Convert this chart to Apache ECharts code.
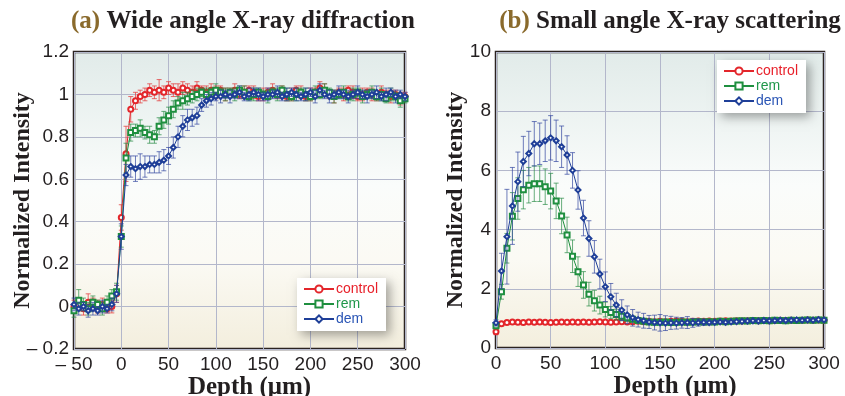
<!DOCTYPE html>
<html>
<head>
<meta charset="utf-8">
<script src="https://cdn.jsdelivr.net/npm/echarts@6/dist/echarts.min.js"></script>
<style>
  html, body { margin: 0; padding: 0; background: #fff; }
  #chart { width: 845px; height: 396px; }
</style>
</head>
<body>
<div id="chart"></div>
<script>
// ---- data: (a) wide angle X-ray diffraction ----
const depthA = [
  -50, -45, -40, -35, -30, -25, -20, -15, -10, -5,
  0, 5, 10, 15, 20, 25, 30, 35, 40, 45,
  50, 55, 60, 65, 70, 75, 80, 85, 90, 95,
  100, 105, 110, 115, 120, 125, 130, 135, 140, 145,
  150, 155, 160, 165, 170, 175, 180, 185, 190, 195,
  200, 205, 210, 215, 220, 225, 230, 235, 240, 245,
  250, 255, 260, 265, 270, 275, 280, 285, 290, 295,
  300
]
const controlA = [
  0.00, 0.01, -0.01, 0.02, 0.01, 0.00, 0.01, -0.01, 0.00, 0.06,
  0.42, 0.72, 0.93, 0.97, 0.99, 1.00, 1.02, 1.01, 1.02, 1.01,
  1.03, 1.02, 1.01, 1.03, 1.02, 1.01, 1.03, 1.02, 1.01, 1.02,
  1.01, 1.02, 1.00, 1.01, 1.02, 1.00, 1.01, 1.02, 1.01, 0.99,
  1.00, 1.01, 1.02, 1.00, 1.01, 0.99, 1.00, 1.02, 1.01, 0.99,
  1.00, 1.01, 1.03, 1.02, 1.00, 0.99, 1.01, 1.00, 1.02, 1.01,
  0.99, 1.00, 1.01, 1.00, 0.99, 1.01, 1.00, 0.99, 1.00, 0.98,
  0.99
]
const remA = [
  -0.02, 0.03, 0.01, -0.01, 0.02, 0.01, -0.01, 0.02, 0.05, 0.07,
  0.33, 0.70, 0.82, 0.83, 0.84, 0.82, 0.81, 0.80, 0.85, 0.88,
  0.90, 0.93, 0.96, 0.97, 0.98, 0.99, 1.00, 1.01, 1.00, 1.01,
  1.02, 1.01, 1.00, 1.01, 1.00, 1.02, 1.01, 0.99, 1.00, 1.01,
  1.00, 0.99, 1.01, 1.00, 1.02, 1.00, 0.99, 1.00, 1.01, 1.00,
  0.99, 1.01, 1.00, 1.02, 1.01, 0.99, 1.00, 1.01, 0.99, 1.00,
  1.01, 0.99, 1.00, 1.01, 0.99, 1.00, 0.98, 1.00, 0.99, 0.97,
  0.98
]
const demA = [
  0.01, -0.01, 0.00, -0.02, -0.01, -0.02, 0.00, -0.01, 0.01, 0.06,
  0.33, 0.62, 0.66, 0.65, 0.66, 0.66, 0.67, 0.67, 0.68, 0.69,
  0.71, 0.75, 0.80, 0.85, 0.88, 0.89, 0.90, 0.95, 0.97, 0.98,
  0.99, 0.99, 1.00, 0.99, 1.00, 1.01, 0.99, 1.00, 1.01, 1.00,
  0.99, 1.00, 1.00, 1.01, 0.99, 1.00, 1.01, 1.00, 0.99, 1.00,
  1.01, 0.99, 1.02, 1.00, 0.99, 1.00, 1.01, 1.00, 0.99, 1.00,
  1.01, 1.00, 0.99, 1.00, 1.01, 0.99, 1.00, 1.01, 0.99, 1.00,
  0.99
]
const controlErrA = [
  0.03, 0.03, 0.03, 0.04, 0.03, 0.03, 0.03, 0.02, 0.03, 0.04,
  0.06, 0.13, 0.06, 0.04, 0.03, 0.03, 0.03, 0.03, 0.05, 0.03,
  0.03, 0.03, 0.04, 0.03, 0.03, 0.03, 0.03, 0.02, 0.03, 0.03,
  0.03, 0.02, 0.03, 0.02, 0.03, 0.02, 0.03, 0.02, 0.03, 0.02,
  0.03, 0.02, 0.03, 0.02, 0.03, 0.02, 0.03, 0.02, 0.03, 0.02,
  0.03, 0.02, 0.03, 0.03, 0.02, 0.03, 0.02, 0.03, 0.02, 0.03,
  0.02, 0.03, 0.02, 0.03, 0.02, 0.03, 0.02, 0.03, 0.02, 0.03,
  0.02
]
const remErrA = [
  0.03, 0.05, 0.03, 0.03, 0.03, 0.02, 0.03, 0.03, 0.03, 0.04,
  0.05, 0.07, 0.04, 0.03, 0.04, 0.03, 0.04, 0.03, 0.04, 0.04,
  0.04, 0.04, 0.03, 0.04, 0.03, 0.03, 0.03, 0.02, 0.03, 0.02,
  0.03, 0.02, 0.03, 0.02, 0.03, 0.02, 0.03, 0.02, 0.03, 0.02,
  0.02, 0.03, 0.02, 0.03, 0.02, 0.03, 0.02, 0.03, 0.02, 0.03,
  0.02, 0.03, 0.02, 0.03, 0.02, 0.03, 0.02, 0.03, 0.02, 0.03,
  0.02, 0.03, 0.02, 0.03, 0.02, 0.03, 0.02, 0.03, 0.02, 0.03,
  0.02
]
const demErrA = [
  0.03, 0.03, 0.02, 0.03, 0.03, 0.02, 0.03, 0.02, 0.03, 0.04,
  0.06, 0.05, 0.05, 0.06, 0.06, 0.05, 0.04, 0.04, 0.05, 0.05,
  0.04, 0.05, 0.05, 0.05, 0.05, 0.04, 0.04, 0.03, 0.03, 0.03,
  0.02, 0.03, 0.02, 0.03, 0.02, 0.03, 0.02, 0.03, 0.02, 0.03,
  0.02, 0.03, 0.02, 0.03, 0.02, 0.03, 0.02, 0.03, 0.02, 0.03,
  0.02, 0.03, 0.03, 0.02, 0.03, 0.02, 0.03, 0.02, 0.03, 0.02,
  0.03, 0.02, 0.03, 0.02, 0.03, 0.02, 0.03, 0.02, 0.03, 0.02,
  0.02
]

// ---- data: (b) small angle X-ray scattering ----
const depthB = [
  0, 5, 10, 15, 20, 25, 30, 35, 40, 45,
  50, 55, 60, 65, 70, 75, 80, 85, 90, 95,
  100, 105, 110, 115, 120, 125, 130, 135, 140, 145,
  150, 155, 160, 165, 170, 175, 180, 185, 190, 195,
  200, 205, 210, 215, 220, 225, 230, 235, 240, 245,
  250, 255, 260, 265, 270, 275, 280, 285, 290, 295,
  300
]
const controlB = [
  0.55, 0.82, 0.86, 0.88, 0.87, 0.86, 0.88, 0.87, 0.88, 0.87,
  0.86, 0.87, 0.88, 0.87, 0.88, 0.87, 0.88, 0.87, 0.88, 0.89,
  0.88, 0.87, 0.88, 0.89, 0.88, 0.89, 0.90, 0.89, 0.90, 0.89,
  0.90, 0.89, 0.90, 0.91, 0.90, 0.89, 0.90, 0.91, 0.90, 0.91,
  0.90, 0.91, 0.92, 0.91, 0.92, 0.91, 0.92, 0.93, 0.92, 0.93,
  0.92, 0.93, 0.94, 0.93, 0.94, 0.93, 0.94, 0.95, 0.94, 0.95,
  0.94
]
const remB = [
  0.75, 1.90, 3.37, 4.45, 5.05, 5.35, 5.50, 5.55, 5.55, 5.45,
  5.30, 4.97, 4.46, 3.82, 3.10, 2.58, 2.13, 1.82, 1.60, 1.45,
  1.30, 1.20, 1.13, 1.07, 1.02, 0.97, 0.93, 0.90, 0.88, 0.87,
  0.87, 0.88, 0.86, 0.87, 0.88, 0.87, 0.88, 0.89, 0.88, 0.89,
  0.88, 0.90, 0.89, 0.90, 0.91, 0.92, 0.91, 0.93, 0.92, 0.93,
  0.92, 0.94, 0.93, 0.92, 0.94, 0.93, 0.94, 0.95, 0.94, 0.95,
  0.94
]
const demB = [
  0.85, 2.60, 3.76, 4.80, 5.62, 6.30, 6.57, 6.90, 6.90, 7.00,
  7.10, 7.00, 6.80, 6.52, 6.00, 5.34, 4.39, 3.70, 3.08, 2.50,
  2.07, 1.73, 1.45, 1.28, 1.12, 1.02, 0.96, 0.92, 0.88, 0.86,
  0.85, 0.84, 0.85, 0.84, 0.85, 0.86, 0.85, 0.86, 0.87, 0.86,
  0.87, 0.88, 0.87, 0.88, 0.89, 0.90, 0.91, 0.92, 0.91, 0.93,
  0.92, 0.93, 0.94, 0.93, 0.94, 0.95, 0.94, 0.95, 0.94, 0.96,
  0.95
]
const controlErrB = [
  0.10, 0.06, 0.05, 0.05, 0.05, 0.05, 0.05, 0.05, 0.05, 0.05,
  0.05, 0.05, 0.05, 0.05, 0.05, 0.05, 0.05, 0.05, 0.05, 0.05,
  0.05, 0.05, 0.05, 0.05, 0.05, 0.05, 0.05, 0.05, 0.05, 0.05,
  0.05, 0.05, 0.05, 0.05, 0.05, 0.05, 0.05, 0.05, 0.05, 0.05,
  0.05, 0.05, 0.05, 0.05, 0.05, 0.05, 0.05, 0.05, 0.05, 0.05,
  0.05, 0.05, 0.05, 0.05, 0.05, 0.05, 0.05, 0.05, 0.05, 0.05,
  0.05
]
const remErrB = [
  0.10, 0.25, 0.50, 0.80, 0.70, 0.65, 0.60, 0.60, 0.60, 0.60,
  0.60, 0.60, 0.60, 0.60, 0.55, 0.50, 0.45, 0.40, 0.35, 0.30,
  0.25, 0.20, 0.18, 0.15, 0.12, 0.10, 0.10, 0.06, 0.06, 0.06,
  0.06, 0.06, 0.06, 0.06, 0.06, 0.06, 0.06, 0.06, 0.06, 0.06,
  0.06, 0.06, 0.06, 0.06, 0.06, 0.06, 0.06, 0.06, 0.06, 0.06,
  0.06, 0.06, 0.06, 0.06, 0.06, 0.06, 0.06, 0.06, 0.06, 0.06,
  0.06
]
const demErrB = [
  0.10, 0.60, 1.60, 1.30, 1.00, 0.85, 0.75, 0.75, 0.70, 0.70,
  0.75, 0.70, 0.70, 0.65, 0.60, 0.65, 0.60, 0.60, 0.55, 0.50,
  0.50, 0.45, 0.40, 0.35, 0.30, 0.28, 0.25, 0.25, 0.22, 0.25,
  0.28, 0.25, 0.22, 0.20, 0.18, 0.20, 0.15, 0.12, 0.10, 0.08,
  0.05, 0.05, 0.05, 0.05, 0.05, 0.05, 0.05, 0.05, 0.05, 0.05,
  0.05, 0.05, 0.05, 0.05, 0.05, 0.05, 0.05, 0.05, 0.05, 0.05,
  0.05
]

const seriesNames = ['control', 'rem', 'dem']
const xTicksA = [-50, 300, 50]   // min, max, interval
const yTicksA = [-0.2, 1.2, 0.2]
const xTicksB = [0, 300, 50]
const yTicksB = [0, 10, 2]

// ---- styling ----
const RED = '#e3262b'
const GREEN = '#1f8f3f'
const BLUE = '#1f3f98'
const lineColors = [RED, GREEN, BLUE]
const errColors = ['rgba(227,60,60,0.75)', 'rgba(40,140,70,0.7)', 'rgba(50,70,160,0.7)']
const legendText = ['#e8202a', '#20984a', '#2a55b5']
const symbols = ['emptyCircle', 'emptyRect', 'emptyDiamond']
const INK = '#231f20'
const SERIF = '"Liberation Serif", "DejaVu Serif", serif'
const SANS = '"Liberation Sans Narrow", "Liberation Sans", Arial, sans-serif'

const pairs = (xs, ys) => xs.map((x, i) => [x, ys[i]])
const bars = (xs, ys, es) => xs.map((x, i) => [x, ys[i] - es[i], ys[i] + es[i]])

function errorBar(color) {
  return function (params, api) {
    const x = api.value(0)
    const lo = api.coord([x, api.value(1)])
    const hi = api.coord([x, api.value(2)])
    const w = 2.5
    const style = { stroke: color, lineWidth: 1 }
    return {
      type: 'group',
      children: [
        { type: 'line', shape: { x1: lo[0], y1: lo[1], x2: hi[0], y2: hi[1] }, style },
        { type: 'line', shape: { x1: lo[0] - w, y1: lo[1], x2: lo[0] + w, y2: lo[1] }, style },
        { type: 'line', shape: { x1: hi[0] - w, y1: hi[1], x2: hi[0] + w, y2: hi[1] }, style },
      ],
    }
  }
}

const plotBg = new echarts.graphic.LinearGradient(0, 0, 0, 1, [
  { offset: 0, color: '#e1ebe9' },
  { offset: 0.45, color: '#fafcfb' },
  { offset: 0.7, color: '#fbfaf4' },
  { offset: 1, color: '#f3eedd' },
])

const gridBase = {
  show: true,
  backgroundColor: plotBg,
  borderColor: '#2b2320',
  borderWidth: 2.5,
  outerBoundsMode: 'none',
}

function numLabel(v) {
  const r = Math.round(v * 10) / 10
  return r < 0 ? '\u2013 ' + Math.abs(r) : String(r)
}

function xAxis(gridIndex, ticks, nameShift) {
  return {
    type: 'value',
    gridIndex,
    min: ticks[0],
    max: ticks[1],
    interval: ticks[2],
    name: 'Depth (\u03bcm)',
    nameLocation: 'middle',
    nameGap: 26,
    nameMoveOverlap: false,
    nameTextStyle: {
      fontFamily: SERIF, fontWeight: 'bold', fontSize: 25, color: INK,
      padding: [0, 0, 0, nameShift],
    },
    axisLine: { show: false },
    axisTick: { show: false },
    axisLabel: { formatter: numLabel, fontFamily: SANS, fontSize: 19, color: INK, margin: 6 },
    splitLine: { show: true, lineStyle: { color: '#b3b7cb', width: 1 } },
  }
}

function yAxis(gridIndex, ticks, gap) {
  return {
    type: 'value',
    gridIndex,
    min: ticks[0],
    max: ticks[1],
    interval: ticks[2],
    name: 'Normalized Intensity',
    nameLocation: 'middle',
    nameGap: gap,
    nameMoveOverlap: false,
    nameTextStyle: { fontFamily: SERIF, fontWeight: 'bold', fontSize: 24, color: INK },
    axisLine: { show: false },
    axisTick: { show: false },
    axisLabel: { formatter: numLabel, fontFamily: SANS, fontSize: 19, color: INK, margin: 5 },
    splitLine: { show: true, lineStyle: { color: '#b3b7cb', width: 1 } },
  }
}

function legend(left, top) {
  return {
    orient: 'vertical',
    left,
    top,
    data: seriesNames.map((n, i) => ({ name: n, textStyle: { color: legendText[i] } })),
    backgroundColor: '#ffffff',
    padding: [4, 8, 5, 6],
    itemWidth: 30,
    itemHeight: 9,
    itemGap: 1,
    textStyle: { fontFamily: '"Liberation Sans", Arial, sans-serif', fontSize: 14, padding: [0, 0, 0, -3] },
    shadowBlur: 10,
    shadowColor: 'rgba(0,0,0,0.35)',
    shadowOffsetX: 4,
    shadowOffsetY: 4,
    selectedMode: false,
  }
}

function panelSeries(idx, depth, vals, errs) {
  const out = []
  seriesNames.forEach((name, i) => {
    out.push({
      type: 'custom',
      name: name + ' error',
      xAxisIndex: idx,
      yAxisIndex: idx,
      renderItem: errorBar(errColors[i]),
      data: bars(depth, vals[i], errs[i]),
      silent: true,
      z: 2 + i * 2,
    })
    out.push({
      type: 'line',
      name,
      xAxisIndex: idx,
      yAxisIndex: idx,
      data: pairs(depth, vals[i]),
      symbol: symbols[i],
      symbolSize: 5,
      showAllSymbol: true,
      lineStyle: { color: lineColors[i], width: 1 },
      itemStyle: { color: lineColors[i], borderWidth: 1 },
      emphasis: { disabled: true },
      z: 3 + i * 2,
    })
  })
  return out
}

const chart = echarts.init(document.getElementById('chart'), null, { renderer: 'canvas' })

const titleStyle = {
  fontFamily: SERIF, fontWeight: 'bold', fontSize: 25, color: INK,
  rich: { p: { fontFamily: SERIF, fontWeight: 'bold', fontSize: 25, color: '#8a6a2c' } },
}

chart.setOption({
  animation: false,
  backgroundColor: '#ffffff',
  title: [
    { text: '{p|(a)} Wide angle X-ray diffraction', left: 238, top: 4, textAlign: 'center', textStyle: titleStyle },
    { text: '{p|(b)} Small angle X-ray scattering', left: 665, top: 4, textAlign: 'center', textStyle: titleStyle },
  ],
  legend: [legend(297, 278), legend(717, 60)],
  grid: [
    { ...gridBase, left: 74, top: 52, width: 331, height: 297 },
    { ...gridBase, left: 496, top: 52, width: 328, height: 296 },
  ],
  xAxis: [xAxis(0, xTicksA, 20), xAxis(1, xTicksB, 30)],
  yAxis: [yAxis(0, yTicksA, 39), yAxis(1, yTicksB, 28)],
  series: [
    ...panelSeries(0, depthA, [controlA, remA, demA], [controlErrA, remErrA, demErrA]),
    ...panelSeries(1, depthB, [controlB, remB, demB], [controlErrB, remErrB, demErrB]),
  ],
})
</script>
</body>
</html>
